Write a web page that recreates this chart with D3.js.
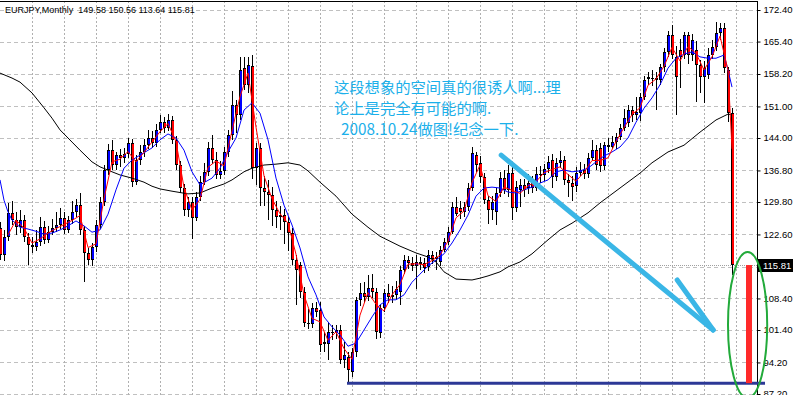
<!DOCTYPE html>
<html>
<head>
<meta charset="utf-8">
<script src="https://cdn.jsdelivr.net/npm/d3@7"></script>
<style>
    html, body { margin: 0; padding: 0; background: #ffffff; }
    svg { display: block; }
</style>
</head>
<body>
<svg id="chart"></svg>
<script>
// Symbol header and the last (Oct 2008) bar
const symbolTitle = 'EURJPY,Monthly';
const lastBarText = ['149.58', '150.56', '113.64', '115.81'];

// Monthly bars, oldest first (Jul 1993 .. Oct 2008)
const opens = [
    124.0, 118.1, 122.0, 127.4, 125.8, 124.2, 125.8, 122.0, 120.3, 119.8,
    120.9, 124.2, 121.4, 123.1, 124.0, 124.7, 126.2, 123.6, 125.8, 127.6,
    129.1, 123.6, 118.5, 116.9, 119.8, 124.7, 129.8, 136.9, 141.3, 138.0,
    140.2, 139.6, 140.4, 142.9, 134.2, 139.1, 140.9, 142.4, 144.0, 142.9,
    145.8, 147.5, 146.2, 148.0, 143.6, 138.0, 132.9, 128.0, 129.8, 126.2,
    130.9, 134.2, 136.5, 141.8, 139.1, 135.8, 136.7, 140.9, 144.7, 151.3,
    149.1, 159.5, 155.8, 160.0, 137.3, 141.8, 132.9, 132.0, 131.4, 128.0,
    126.5, 127.0, 125.4, 122.9, 116.9, 115.8, 109.8, 103.0, 102.7, 106.3,
    105.8, 98.7, 98.3, 100.9, 100.7, 101.4, 94.7, 95.4, 92.1, 96.5,
    108.1, 109.6, 108.7, 110.7, 109.8, 100.7, 106.3, 109.6, 108.7, 109.2,
    109.8, 114.7, 116.9, 116.3, 115.6, 116.5, 116.2, 115.4, 118.0, 117.2,
    116.5, 119.2, 120.9, 123.1, 128.7, 128.5, 127.6, 128.7, 132.9, 140.2,
    138.5, 135.3, 130.2, 128.0, 127.6, 131.8, 135.1, 132.5, 136.2, 128.5,
    132.5, 133.6, 132.9, 134.0, 132.9, 136.0, 135.8, 137.1, 139.1, 135.3,
    138.5, 139.1, 134.7, 134.0, 133.3, 136.2, 136.9, 136.0, 139.6, 141.3,
    141.8, 137.8, 142.4, 142.0, 143.1, 144.2, 146.2, 147.3, 150.2, 149.1,
    149.5, 153.1, 157.5, 157.0, 157.3, 156.9, 159.7, 163.1, 166.9, 162.0,
    163.5, 162.4, 166.9, 162.4, 163.5, 160.2, 157.5, 158.0, 162.4, 164.2,
    167.3, 168.4, 159.1, 149.58
];
const highs = [
    125.4, 123.5, 129.5, 130.0, 127.6, 128.0, 127.0, 123.0, 122.0, 123.6,
    126.5, 125.5, 124.5, 126.0, 127.5, 128.5, 127.5, 126.8, 130.0, 130.5,
    131.8, 124.5, 119.5, 120.8, 125.8, 130.8, 138.0, 142.6, 143.6, 141.0,
    141.5, 141.8, 144.0, 143.8, 140.3, 142.5, 143.8, 145.8, 145.5, 147.0,
    149.0, 148.6, 149.3, 148.8, 144.5, 139.0, 133.8, 131.0, 130.8, 132.0,
    135.5, 138.5, 143.2, 144.7, 140.8, 139.0, 142.0, 145.8, 154.5, 152.5,
    161.9, 162.0, 162.0, 162.4, 142.8, 143.0, 135.5, 134.7, 133.1, 130.0,
    129.0, 128.2, 126.5, 124.0, 118.0, 116.5, 111.0, 106.0, 107.5, 107.6,
    107.7, 100.9, 103.0, 102.5, 102.6, 102.4, 98.7, 96.5, 97.5, 108.8,
    111.8, 112.0, 113.5, 113.8, 110.8, 107.0, 110.5, 111.5, 111.2, 112.3,
    115.5, 118.0, 117.8, 117.6, 118.0, 117.5, 117.4, 119.2, 119.0, 118.8,
    120.0, 121.8, 124.2, 129.8, 131.0, 130.0, 129.8, 134.0, 142.0, 141.0,
    140.0, 136.2, 131.2, 131.2, 133.0, 136.5, 137.0, 138.0, 137.5, 134.5,
    135.0, 135.0, 136.0, 135.5, 137.5, 137.8, 138.3, 140.0, 140.4, 139.6,
    141.2, 140.0, 136.0, 135.5, 137.5, 138.6, 138.2, 140.6, 143.6, 142.5,
    143.0, 143.2, 144.0, 144.5, 145.0, 147.2, 150.5, 151.3, 151.2, 153.1,
    154.0, 157.8, 158.6, 159.0, 158.6, 160.5, 164.0, 167.8, 169.1, 164.5,
    166.0, 167.5, 167.5, 167.0, 165.5, 161.3, 161.0, 164.0, 165.7, 169.7,
    169.5, 169.5, 159.8, 150.56
];
const lows = [
    117.0, 116.6, 121.2, 124.8, 122.5, 123.0, 121.0, 115.8, 118.5, 119.0,
    120.0, 120.5, 120.8, 122.5, 123.2, 123.8, 122.8, 122.9, 125.0, 126.5,
    122.5, 112.0, 115.8, 115.5, 118.8, 123.8, 129.0, 135.8, 137.0, 136.8,
    137.5, 138.4, 139.5, 133.2, 133.5, 138.0, 139.8, 141.5, 141.8, 142.0,
    145.0, 145.0, 145.5, 142.6, 137.0, 131.8, 126.8, 126.5, 121.5, 125.5,
    130.0, 133.5, 135.5, 138.2, 134.8, 134.8, 135.8, 139.8, 143.6, 145.0,
    148.0, 154.6, 154.0, 135.0, 133.5, 129.0, 129.0, 125.8, 124.4, 124.0,
    123.5, 120.5, 119.0, 115.8, 107.0, 108.5, 102.0, 101.6, 101.8, 104.3,
    96.5, 96.5, 94.8, 99.2, 99.5, 93.8, 93.0, 89.6, 91.0, 95.5,
    106.8, 107.5, 107.8, 108.6, 99.5, 99.6, 105.5, 107.3, 107.5, 108.3,
    107.0, 113.8, 115.0, 114.6, 110.5, 114.8, 114.0, 114.6, 116.0, 114.8,
    115.6, 118.6, 120.2, 122.6, 126.6, 126.0, 126.5, 127.8, 132.2, 136.5,
    134.0, 129.3, 125.0, 125.8, 124.6, 131.0, 131.5, 131.0, 125.8, 127.5,
    128.7, 131.0, 131.5, 131.8, 132.2, 134.0, 134.5, 136.2, 133.0, 134.5,
    137.4, 133.5, 131.0, 130.0, 132.0, 135.5, 134.8, 135.2, 139.0, 136.8,
    136.5, 137.0, 141.0, 141.5, 141.6, 143.5, 145.6, 146.4, 147.5, 148.0,
    147.8, 152.4, 155.8, 155.5, 150.2, 155.8, 158.6, 162.0, 161.5, 149.1,
    155.0, 161.5, 160.5, 161.0, 152.0, 154.0, 151.8, 157.0, 161.5, 163.3,
    165.8, 158.5, 147.5, 113.64
];
const closes = [
    118.1, 122.0, 127.4, 125.8, 124.2, 125.8, 122.0, 120.3, 119.8, 120.9,
    124.2, 121.4, 123.1, 124.0, 124.7, 126.2, 123.6, 125.8, 127.6, 129.1,
    123.6, 118.5, 116.9, 119.8, 124.7, 129.8, 136.9, 141.3, 138.0, 140.2,
    139.6, 140.4, 142.9, 134.2, 139.1, 140.9, 142.4, 144.0, 142.9, 145.8,
    147.5, 146.2, 148.0, 143.6, 138.0, 132.9, 128.0, 129.8, 126.2, 130.9,
    134.2, 136.5, 141.8, 139.1, 135.8, 136.7, 140.9, 144.7, 151.3, 149.1,
    159.1, 155.8, 160.2, 137.3, 141.8, 132.9, 132.0, 131.4, 128.0, 126.5,
    127.0, 125.4, 122.9, 116.9, 114.7, 109.8, 103.0, 102.7, 106.3, 105.4,
    98.0, 98.3, 100.9, 100.8, 101.4, 94.7, 95.8, 92.5, 96.5, 108.1,
    109.6, 108.7, 110.7, 109.8, 100.9, 106.3, 109.6, 108.7, 109.2, 110.5,
    114.7, 116.9, 116.3, 115.6, 116.5, 116.0, 115.1, 118.0, 117.2, 117.6,
    119.2, 120.9, 123.1, 128.7, 127.2, 127.6, 128.7, 132.9, 140.7, 138.0,
    135.3, 130.2, 128.0, 129.8, 131.8, 135.1, 132.5, 136.2, 128.5, 133.1,
    133.6, 132.5, 134.0, 132.9, 136.0, 135.8, 137.1, 138.7, 135.3, 138.5,
    139.1, 134.7, 134.0, 133.1, 136.2, 136.9, 136.0, 139.6, 141.3, 138.0,
    137.8, 142.4, 142.0, 143.1, 144.2, 146.2, 148.4, 150.2, 149.1, 149.8,
    153.1, 156.9, 157.0, 157.3, 156.9, 159.7, 163.1, 166.9, 162.4, 157.5,
    162.0, 166.9, 162.4, 165.7, 160.2, 157.5, 159.5, 162.4, 164.2, 167.3,
    168.4, 159.5, 149.5, 115.81
];

// Fast moving average (red), read at every other bar
const fastMaIdx = [2, 4, 6, 8, 10, 12, 14, 16, 18, 20, 22, 24, 26, 28, 30, 32, 34, 36, 38, 40,
    42, 44, 46, 48, 50, 52, 54, 56, 58, 60, 62, 64, 66, 68, 70, 72, 74, 76, 78, 80,
    82, 84, 86, 88, 90, 92, 94, 96, 98, 100, 102, 104, 106, 108, 110, 112, 114, 116, 118, 120,
    122, 124, 126, 128, 130, 132, 134, 136, 138, 140, 142, 144, 146, 148, 150, 152, 154, 156, 158, 160,
    162, 164, 166, 168, 170, 172, 174, 176, 178, 180, 182, 183];
const fastMaVal = [122.5, 125.8, 124.0, 120.7, 121.6, 122.9, 123.9, 124.8, 125.7, 126.8,
    119.7, 120.5, 130.5, 138.7, 139.3, 141.0, 138.7, 140.8, 143.1, 145.4,
    147.2, 143.2, 133.0, 128.0, 130.4, 137.5, 138.9, 137.8, 145.6, 153.2,
    158.4, 146.4, 135.6, 130.5, 127.2, 125.1, 118.2, 109.2, 104.0, 103.2,
    99.1, 101.0, 97.3, 94.9, 104.7, 109.7, 107.1, 105.6, 109.2, 111.5,
    116.0, 116.1, 115.9, 116.8, 118.0, 121.1, 126.3, 127.8, 134.1, 138.0,
    131.2, 129.9, 133.1, 132.4, 131.7, 133.4, 134.3, 136.3, 137.0, 137.6,
    135.9, 134.4, 136.4, 139.0, 139.0, 139.6, 143.2, 146.3, 149.2, 150.7,
    155.7, 157.1, 159.9, 164.1, 161.1, 164.3, 162.8, 159.1, 162.0, 166.6,
    159.1, 141.6];

// Medium moving average (blue)
const midMaIdx = [0, 1, 2, 3, 5, 7, 9, 11, 13, 15, 17, 19, 21, 23, 25, 27, 29, 31, 33, 35,
    38, 40, 42, 44, 46, 48, 50, 53, 55, 57, 59, 61, 63, 65, 67, 69, 71, 73, 75, 77,
    79, 81, 83, 85, 87, 89, 91, 93, 95, 97, 99, 101, 103, 105, 107, 109, 111, 113, 115, 117,
    119, 121, 123, 125, 127, 129, 131, 133, 135, 137, 139, 141, 143, 145, 147, 149, 151, 153, 155, 157,
    159, 161, 163, 165, 167, 169, 171, 173, 175, 177, 179, 181, 182, 183];
const midMaVal = [134.7, 130.2, 127.6, 125.8, 124.2, 123.8, 123.3, 122.7, 122.9, 123.6,
    124.5, 125.6, 124.5, 123.1, 123.6, 127.1, 132.5, 137.3, 139.1, 140.2,
    141.8, 143.6, 144.9, 144.0, 141.3, 136.5, 133.6, 135.1, 137.3, 140.9,
    144.0, 150.2, 151.8, 149.5, 143.6, 135.1, 129.1, 124.7, 119.6, 113.2,
    109.2, 104.3, 102.1, 100.3, 97.8, 98.5, 101.4, 104.3, 107.0, 108.1,
    108.1, 109.2, 112.0, 113.8, 115.6, 116.9, 118.3, 120.7, 123.6, 126.9,
    131.1, 132.9, 133.1, 132.9, 132.0, 131.8, 132.5, 133.1, 134.0, 134.7,
    136.5, 136.9, 136.5, 136.7, 137.3, 138.7, 140.0, 140.9, 142.0, 144.0,
    147.5, 150.6, 152.9, 155.8, 159.5, 161.7, 162.6, 163.1, 162.0, 161.7,
    161.7, 162.4, 159.1, 155.3];

// Slow moving average (black)
const slowMaIdx = [0, 3, 5, 8, 11, 13, 15, 18, 20, 23, 25, 28, 30, 33, 36, 38, 40, 43, 47, 50,
    53, 56, 58, 61, 63, 66, 69, 72, 75, 77, 80, 84, 88, 92, 95, 100, 104, 107, 109, 111,
    114, 118, 120, 122, 125, 127, 130, 133, 137, 140, 143, 147, 150, 155, 160, 163, 167, 171, 175, 179,
    182, 183];
const slowMaVal = [158.4, 157.3, 156.4, 154.0, 150.7, 148.4, 145.8, 143.1, 141.3, 138.7,
    137.6, 136.5, 135.8, 135.1, 134.2, 133.3, 132.7, 132.2, 131.6, 131.8,
    132.9, 133.8, 134.7, 136.5, 137.3, 138.0, 138.2, 138.5, 138.0, 136.7,
    134.2, 131.1, 127.1, 124.2, 122.2, 120.0, 118.5, 117.6, 116.5, 114.3,
    112.7, 112.5, 112.9, 113.4, 114.3, 115.4, 116.5, 118.3, 121.4, 123.6,
    125.1, 127.4, 129.6, 132.9, 136.2, 138.5, 140.9, 142.4, 145.3, 148.0,
    149.3, 149.1];

// Price scale: grid levels, and the labels shown (115.40 sits under the bid box)
const priceTicks = [172.40, 165.40, 158.20, 151.00, 144.00, 136.80, 129.80, 122.60, 115.40, 108.40, 101.40, 94.20, 87.20];
const priceLabels = [172.40, 165.40, 158.20, 151.00, 144.00, 136.80, 129.80, 122.60, 108.40, 101.40, 94.20, 87.20];
const bidPrice = 115.81;

// Hand-drawn annotations, in bar index / price units
const noteLines = ['这段想象的空间真的很诱人啊...理', '论上是完全有可能的啊.', '2008.10.24做图!纪念一下.'];
const supportLevel = 89.6;
const supportFromIdx = 86.75;
const supportToIdx = 191.25;
const arrowLines = [
    [[125.3, 140.2], [178.3, 101.4]],
    [[169.3, 112.5], [178.3, 101.4]]
];
const projectedBar = { idx: 187.25, top: 115.81, bottom: 89.6 };
const circleBox = { x0: 182.0, x1: 191.8, top: 118.7, bottom: 86.3 };

document.addEventListener('DOMContentLoaded', () => {
    const width = 793;
    const height = 395;
    const plotRight = 757;
    const labelFont = '"Liberation Sans", Arial, sans-serif';

    const svg = d3.select('#chart')
        .attr('width', width)
        .attr('height', height);

    // Bars sit 4px apart, the last one at x = 732
    const xScale = d3.scaleLinear()
        .domain([0, closes.length - 1])
        .range([0, 732]);

    const yScale = d3.scaleLinear()
        .domain([87.2, 172.4])
        .range([394, 10]);

    svg.append('defs').append('clipPath')
        .attr('id', 'plot-clip')
        .append('rect')
        .attr('x', 0).attr('y', 1)
        .attr('width', plotRight).attr('height', height);

    // Grid
    const grid = svg.append('g')
        .attr('shape-rendering', 'crispEdges');

    grid.selectAll('.hgrid')
        .data(priceTicks)
        .enter()
        .append('line')
        .attr('x1', 0)
        .attr('x2', plotRight)
        .attr('y1', d => Math.round(yScale(d)) + 0.5)
        .attr('y2', d => Math.round(yScale(d)) + 0.5)
        .attr('stroke', '#c0c0c0')
        .attr('stroke-dasharray', '4,3');

    grid.selectAll('.vgrid')
        .data(d3.range(8, closes.length + 2, 8))
        .enter()
        .append('line')
        .attr('x1', d => Math.round(xScale(d)) + 0.5)
        .attr('x2', d => Math.round(xScale(d)) + 0.5)
        .attr('y1', 1)
        .attr('y2', height)
        .attr('stroke', '#b0b0b0')
        .attr('stroke-dasharray', '2,2');

    // Bid line
    svg.append('line')
        .attr('x1', 0)
        .attr('x2', plotRight)
        .attr('y1', Math.round(yScale(bidPrice)) + 0.5)
        .attr('y2', Math.round(yScale(bidPrice)) + 0.5)
        .attr('stroke', '#a0a0a0')
        .attr('stroke-dasharray', '1,1')
        .attr('shape-rendering', 'crispEdges');

    const plot = svg.append('g').attr('clip-path', 'url(#plot-clip)');

    // Candles: black wick, black-edged body with a 2px colour fill
    const bars = closes.map((c, i) => ({ i, o: opens[i], h: highs[i], l: lows[i], c }));
    const candles = plot.append('g').attr('shape-rendering', 'crispEdges');
    const bodyTop = d => Math.round(yScale(Math.max(d.o, d.c)));
    const bodyH = d => Math.round(Math.abs(yScale(d.o) - yScale(d.c)));

    candles.selectAll('.wick')
        .data(bars)
        .enter()
        .append('line')
        .attr('x1', d => xScale(d.i) + 0.5)
        .attr('x2', d => xScale(d.i) + 0.5)
        .attr('y1', d => Math.round(yScale(d.h)))
        .attr('y2', d => Math.round(yScale(d.l)))
        .attr('stroke', '#000');

    candles.selectAll('.body')
        .data(bars)
        .enter()
        .append('rect')
        .attr('x', d => xScale(d.i) - 1)
        .attr('y', bodyTop)
        .attr('width', 3)
        .attr('height', d => Math.max(1, bodyH(d)))
        .attr('fill', '#000');

    candles.selectAll('.fill')
        .data(bars.filter(d => bodyH(d) > 2))
        .enter()
        .append('rect')
        .attr('x', d => xScale(d.i))
        .attr('y', d => bodyTop(d) + 1)
        .attr('width', 2)
        .attr('height', d => bodyH(d) - 2)
        .attr('fill', d => d.c >= d.o ? '#0000ff' : '#ff0000');

    // Moving averages
    const line = d3.line()
        .x(d => xScale(d[0]))
        .y(d => yScale(d[1]));

    const maSets = [
        { idx: slowMaIdx, val: slowMaVal, color: '#000000' },
        { idx: midMaIdx, val: midMaVal, color: '#0000ff' },
        { idx: fastMaIdx, val: fastMaVal, color: '#ff0000' }
    ];
    maSets.forEach(ma => {
        plot.append('path')
            .attr('fill', 'none')
            .attr('stroke', ma.color)
            .attr('stroke-width', 1)
            .attr('d', line(ma.idx.map((x, k) => [x, ma.val[k]])));
    });

    // Frame and price axis
    svg.append('line')
        .attr('x1', 0).attr('x2', plotRight + 0.5)
        .attr('y1', 1.5).attr('y2', 1.5)
        .attr('stroke', '#000');
    svg.append('line')
        .attr('x1', plotRight + 0.5).attr('x2', plotRight + 0.5)
        .attr('y1', 1).attr('y2', height)
        .attr('stroke', '#000');

    const axis = svg.append('g')
        .attr('transform', `translate(${plotRight + 0.5},0)`)
        .call(d3.axisRight(yScale)
            .tickValues(priceLabels)
            .tickSize(3)
            .tickPadding(3)
            .tickFormat(d3.format('.2f')));
    axis.select('.domain').remove();
    axis.selectAll('text')
        .style('font-family', labelFont)
        .style('font-size', '9.5px')
        .attr('dy', '0.3em')
        .attr('fill', '#000');

    // Current price box
    const bidY = Math.round(yScale(bidPrice));
    svg.append('rect')
        .attr('x', plotRight + 1)
        .attr('y', bidY - 6)
        .attr('width', width - plotRight - 1)
        .attr('height', 13)
        .attr('fill', '#000');
    svg.append('text')
        .attr('x', plotRight + 6)
        .attr('y', bidY + 3.5)
        .style('font-family', labelFont)
        .style('font-size', '9.5px')
        .attr('fill', '#fff')
        .text(lastBarText[3]);

    // Header
    svg.append('text')
        .attr('x', 5)
        .attr('y', 12.5)
        .style('font-family', labelFont)
        .style('font-size', '9px')
        .attr('fill', '#000')
        .attr('xml:space', 'preserve')
        .text(symbolTitle + '  ' + lastBarText.join(' '));

    // Annotation text
    svg.selectAll('.note')
        .data(noteLines)
        .enter()
        .append('text')
        .attr('x', (d, i) => i === 2 ? 341 : 334)
        .attr('y', (d, i) => 93 + i * 21)
        .style('font-family', '"Noto Sans CJK SC", sans-serif')
        .style('font-size', '15.3px')
        .attr('fill', '#1cb0ea')
        .text(d => d);

    // Annotation arrows
    arrowLines.forEach(seg => {
        svg.append('line')
            .attr('x1', xScale(seg[0][0]))
            .attr('y1', yScale(seg[0][1]))
            .attr('x2', xScale(seg[1][0]))
            .attr('y2', yScale(seg[1][1]))
            .attr('stroke', '#3ab6e6')
            .attr('stroke-width', 5)
            .attr('stroke-linecap', 'round');
    });

    // Support line at the 2000 low
    svg.append('line')
        .attr('x1', xScale(supportFromIdx))
        .attr('x2', xScale(supportToIdx))
        .attr('y1', yScale(supportLevel))
        .attr('y2', yScale(supportLevel))
        .attr('stroke', '#2c3896')
        .attr('stroke-width', 3);

    // Projected bar
    svg.append('rect')
        .attr('x', xScale(projectedBar.idx) - 3)
        .attr('y', yScale(projectedBar.top))
        .attr('width', 6)
        .attr('height', yScale(projectedBar.bottom) - yScale(projectedBar.top))
        .attr('fill', '#ff2a2a');

    // Circle around the projection
    svg.append('ellipse')
        .attr('cx', (xScale(circleBox.x0) + xScale(circleBox.x1)) / 2)
        .attr('cy', (yScale(circleBox.top) + yScale(circleBox.bottom)) / 2)
        .attr('rx', (xScale(circleBox.x1) - xScale(circleBox.x0)) / 2)
        .attr('ry', (yScale(circleBox.bottom) - yScale(circleBox.top)) / 2)
        .attr('fill', 'none')
        .attr('stroke', '#22aa3a')
        .attr('stroke-width', 2);
});
</script>
</body>
</html>
